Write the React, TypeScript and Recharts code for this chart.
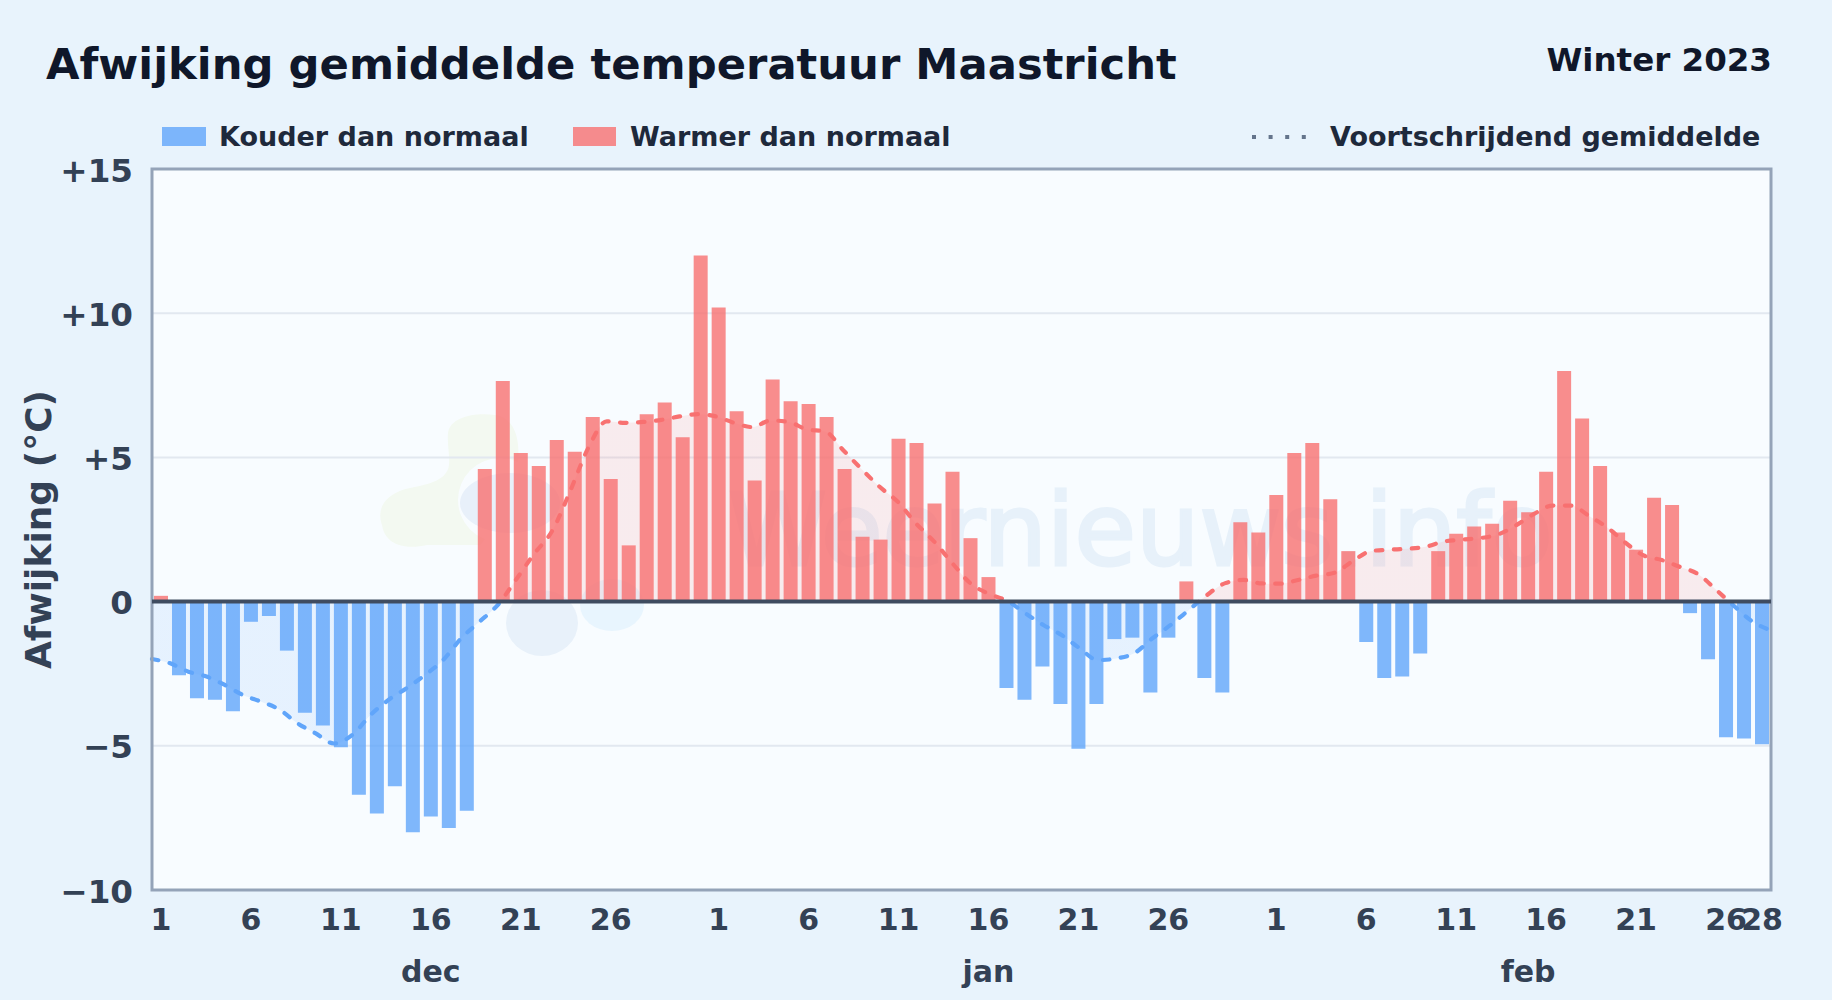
import { Area, Bar, CartesianGrid, ComposedChart, ReferenceArea, ReferenceLine, XAxis, YAxis } from 'recharts'

const monthNames = ['dec', 'jan', 'feb']
const monthLengths = [31, 31, 28]
const monthLabelTicks = [15, 46, 76]
const yTicks = [-10, -5, 0, 5, 10, 15]
const gridValues = [-5, 5, 10]

// daily deviation from normal (deg C), 1 dec - 28 feb
const anomaly = [
  0.2, -2.55, -3.35, -3.4, -3.8, -0.7, -0.5, -1.7, -3.85, -4.3, -5.05, -6.7, -7.35, -6.4, -8.0, -7.45, -7.85, -7.25,
  4.6, 7.65, 5.15, 4.7, 5.6, 5.2, 6.4, 4.25, 1.95, 6.5, 6.9, 5.7, 12.0,
  10.2, 6.6, 4.2, 7.7, 6.95, 6.85, 6.4, 4.6, 2.25, 2.15, 5.65, 5.5, 3.4, 4.5, 2.2, 0.85, -3.0, -3.4, -2.25, -3.55,
  -5.1, -3.55, -1.3, -1.25, -3.15, -1.25, 0.7, -2.65, -3.15, 2.75, 2.4,
  3.7, 5.15, 5.5, 3.55, 1.75, -1.4, -2.65, -2.6, -1.8, 1.75, 2.35, 2.6, 2.7, 3.5, 3.1, 4.5, 8.0, 6.35, 4.7, 2.4, 1.8,
  3.6, 3.35, -0.4, -2.0, -4.7, -4.75, -4.95,
]

// rolling mean line
const rolling = [
  -1.99, -2.14, -2.43, -2.6, -2.89, -3.24, -3.47, -3.74, -4.22, -4.57, -4.92, -4.63, -3.94, -3.41, -3.0, -2.55, -2.03,
  -1.27, -0.7, -0.12, 0.75, 1.65, 2.45, 3.85, 5.35, 6.25, 6.2, 6.23, 6.3, 6.42, 6.5, 6.42, 6.2, 6.05, 6.28, 6.23, 5.97,
  5.9, 5.25, 4.6, 3.98, 3.46, 2.71, 2.08, 1.33, 0.63, 0.27, 0.03, -0.4, -0.81, -1.16, -1.62, -2.03, -1.97, -1.79, -1.27,
  -0.81, -0.29, 0.23, 0.64, 0.75, 0.63, 0.62, 0.75, 0.9, 1.0, 1.4, 1.75, 1.8, 1.83, 1.9, 2.08, 2.15, 2.2, 2.33, 2.65,
  3.05, 3.33, 3.33, 2.97, 2.57, 2.04, 1.6, 1.44, 1.2, 0.95, 0.4, -0.17, -0.7, -1.0,
]

const dayOfMonth = monthLengths.flatMap((n) => Array.from({ length: n }, (_, i) => i + 1))
const rows = anomaly.map((v, i) => ({
  index: i,
  warm: v > 0 ? v : null,
  cold: v < 0 ? v : null,
  avg: rolling[i],
}))
const dayTicks = rows.map((r) => r.index).filter((i) => (dayOfMonth[i] <= 26 && (dayOfMonth[i] - 1) % 5 === 0) || i === 89)

const rollMax = Math.max(...rolling)
const rollMin = Math.min(...rolling)
const splitAt = rollMax / (rollMax - rollMin)

const FONT = '"DejaVu Sans", sans-serif'
const dayTick = { fontFamily: FONT, fontSize: 30, fontWeight: 700, fill: '#334155' }
const valueTick = { ...dayTick, fontSize: 32.6, dy: 1 }

const formatY = (v: number) => (v > 0 ? `+${v}` : v < 0 ? `\u2212${-v}` : '0')

function LegendText({ x, children }: { x: number; children: string }) {
  return (
    <div style={{ position: 'absolute', left: x, top: 120, fontSize: 27, fontWeight: 700, color: '#1e293b', lineHeight: '34px', whiteSpace: 'nowrap' }}>
      {children}
    </div>
  )
}

// faint logo and site name behind the plot
function Backdrop() {
  return (
    <svg width={1832} height={1000} style={{ position: 'absolute', left: 0, top: 0 }}>
      <rect x={152} y={169} width={1619} height={721} fill="#f8fcff" />
      <path
        d="M448,433 C450,417 475,412 495,415 C515,418 520,440 518,460 L520,500 L480,545 L427,545 C405,550 385,545 382,525 C375,505 390,492 410,488 C430,484 447,480 449,465 C450,455 447,445 448,433 Z"
        fill="#f3f9f1"
      />
      <circle cx={500} cy={500} r={42} fill="#f8fcff" />
      <ellipse cx={510} cy={503} rx={50} ry={30} fill="#e8f0fa" />
      <ellipse cx={542} cy={623} rx={36} ry={33} fill="#e8f1fa" />
      <ellipse cx={612} cy={605} rx={32} ry={26} fill="#e8f5fe" />
      <text x={728} y={565} fontFamily={FONT} fontSize={100} fill="#e7f1fa" stroke="#e7f1fa" strokeWidth={3}>
        Weernieuws.info
      </text>
    </svg>
  )
}

export default function App() {
  return (
    <div style={{ position: 'absolute', left: 0, top: 0, width: 1832, height: 1000, overflow: 'hidden', background: '#e8f3fc', fontFamily: FONT }}>
      <Backdrop />
      <div style={{ position: 'absolute', left: 46, top: 37, fontSize: 43.3, fontWeight: 700, color: '#0f172a', lineHeight: '54px', whiteSpace: 'nowrap' }}>
        Afwijking gemiddelde temperatuur Maastricht
      </div>
      <div style={{ position: 'absolute', right: 60, top: 40, fontSize: 32.5, fontWeight: 700, color: '#0f172a', lineHeight: '40px', whiteSpace: 'nowrap' }}>
        Winter 2023
      </div>

      <div style={{ position: 'absolute', left: 162, top: 127, width: 44, height: 19, background: '#60a5fa', opacity: 0.8 }} />
      <LegendText x={219}>Kouder dan normaal</LegendText>
      <div style={{ position: 'absolute', left: 573, top: 127, width: 43, height: 19, background: '#f87171', opacity: 0.8 }} />
      <LegendText x={630}>Warmer dan normaal</LegendText>
      <svg width={60} height={8} style={{ position: 'absolute', left: 1250, top: 133 }}>
        <line x1={2} x2={60} y1={4} y2={4} stroke="#64748b" strokeWidth={4} strokeDasharray="4 12.6" />
      </svg>
      <LegendText x={1330}>Voortschrijdend gemiddelde</LegendText>

      <div style={{ position: 'absolute', left: 0, top: 0 }}>
        <ComposedChart
          width={1832}
          height={1000}
          data={rows}
          margin={{ top: 169, right: 61, bottom: 0, left: 0 }}
          barSize={14}
          stackOffset="sign"
        >
          <defs>
            <linearGradient id="avgStroke" x1="0" y1="0" x2="0" y2="1">
              <stop offset={splitAt} stopColor="#f87171" />
              <stop offset={splitAt} stopColor="#60a5fa" />
            </linearGradient>
            <linearGradient id="avgFill" x1="0" y1="0" x2="0" y2="1">
              <stop offset={splitAt} stopColor="#f87171" stopOpacity={0.2} />
              <stop offset={splitAt} stopColor="#60a5fa" stopOpacity={0.2} />
            </linearGradient>
          </defs>
          <CartesianGrid xAxisId="days" vertical={false} horizontalValues={gridValues} stroke="#e2e8f0" strokeWidth={2} />
          <XAxis
            xAxisId="days"
            dataKey="index"
            type="category"
            ticks={dayTicks}
            interval={0}
            height={50}
            axisLine={false}
            tickLine={false}
            tickSize={0}
            tickMargin={19}
            tick={dayTick}
            tickFormatter={(i: number) => String(dayOfMonth[i])}
          />
          <XAxis
            xAxisId="months"
            dataKey="index"
            type="category"
            ticks={monthLabelTicks}
            interval={0}
            height={60}
            axisLine={false}
            tickLine={false}
            tickSize={0}
            tickMargin={21}
            tick={dayTick}
            tickFormatter={(i: number) => monthNames[monthLabelTicks.indexOf(i)]}
          />
          <XAxis xAxisId="avg" dataKey="index" type="number" domain={[0, 89]} height={0} hide />
          <YAxis
            domain={[-10, 15]}
            ticks={yTicks}
            interval={0}
            width={152}
            axisLine={false}
            tickLine={false}
            tickSize={0}
            tickMargin={19}
            tick={valueTick}
            tickFormatter={formatY}
            label={{
              value: 'Afwijking (\u00b0C)',
              angle: -90,
              position: 'insideLeft',
              offset: 38,
              style: { fontFamily: FONT, fontSize: 36, fontWeight: 700, fill: '#334155', textAnchor: 'middle' },
            }}
          />
          <Area
            xAxisId="avg"
            dataKey="avg"
            type="monotone"
            stroke="url(#avgStroke)"
            strokeWidth={4.2}
            strokeDasharray="6.5 11.5"
            strokeLinecap="round"
            fill="url(#avgFill)"
            dot={false}
            activeDot={false}
            isAnimationActive={false}
          />
          <Bar xAxisId="days" dataKey="warm" stackId="t" fill="#f87171" fillOpacity={0.8} isAnimationActive={false} />
          <Bar xAxisId="days" dataKey="cold" stackId="t" fill="#60a5fa" fillOpacity={0.8} isAnimationActive={false} />
          <ReferenceLine xAxisId="avg" y={0} stroke="#3f4c60" strokeWidth={4} />
          <ReferenceArea xAxisId="avg" x1={0} x2={89} y1={-10} y2={15} fill="none" stroke="#94a3b8" strokeWidth={3} />
        </ComposedChart>
      </div>
    </div>
  )
}
